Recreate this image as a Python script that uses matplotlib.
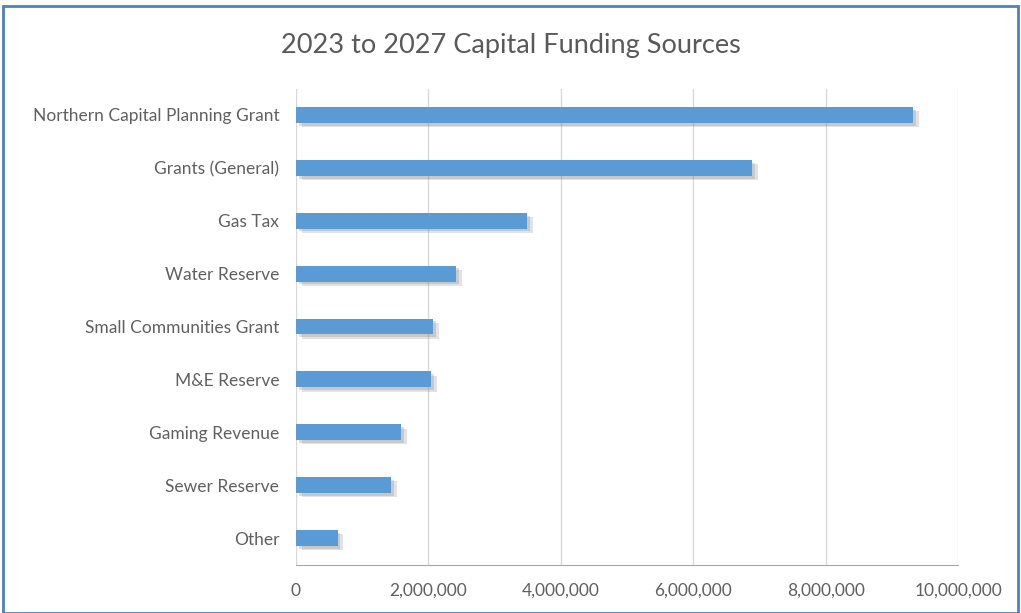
import matplotlib.pyplot as plt
import matplotlib.patheffects as pe
from matplotlib.patches import Rectangle
from matplotlib.ticker import FuncFormatter

sources = [
    "Northern Capital Planning Grant",
    "Grants (General)",
    "Gas Tax",
    "Water Reserve",
    "Small Communities Grant",
    "M&E Reserve",
    "Gaming Revenue",
    "Sewer Reserve",
    "Other",
]
amounts = [9320000, 6890000, 3490000, 2420000, 2070000, 2040000, 1590000, 1440000, 630000]
x_ticks = [0, 2000000, 4000000, 6000000, 8000000, 10000000]

plt.rcParams['font.family'] = ['Lato', 'DejaVu Sans']

fig = plt.figure(figsize=(10.21, 6.13), dpi=100)
ax = fig.add_axes([0.2899, 0.0791, 0.6484, 0.7765])

# top category first
ypos = list(range(len(sources)))[::-1]
bars = ax.barh(ypos, amounts, height=0.3, color='#5B9BD5', zorder=3)
for b in bars:
    b.set_path_effects([
        pe.SimplePatchShadow(offset=(4, -3), shadow_rgbFace='#8c8c8c', alpha=0.25),
        pe.SimplePatchShadow(offset=(2, -2), shadow_rgbFace='#8c8c8c', alpha=0.3),
        pe.Normal(),
    ])

ax.set_xlim(0, 10000000)
ax.set_ylim(-0.5, len(sources) - 0.5)
ax.set_xticks(x_ticks)
ax.xaxis.set_major_formatter(FuncFormatter(lambda v, p: f"{int(v):,}"))
ax.set_yticks(ypos)
ax.set_yticklabels(sources)

ax.grid(axis='x', color='#D9D9D9', linewidth=1, zorder=0)
for s in ['top', 'right', 'left']:
    ax.spines[s].set_visible(False)
ax.spines['bottom'].set_color('#A6A6A6')
ax.tick_params(axis='both', length=0, colors='#606060', labelsize=12.5)
ax.tick_params(axis='y', pad=12)
ax.tick_params(axis='x', pad=13)

fig.text(0.5, 0.926, "2023 to 2027 Capital Funding Sources", ha='center', va='center',
         fontsize=19.5, color='#595959')

# outer frame
fig.patches.append(Rectangle((0.003, 0.0), 0.994, 0.99, transform=fig.transFigure,
                             fill=False, edgecolor='#4F81BD', linewidth=2))

fig.savefig('out.png', dpi=100)
